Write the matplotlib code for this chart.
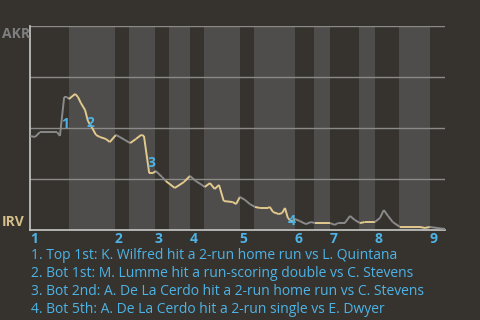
import numpy as np
import matplotlib
matplotlib.use('Agg')
import matplotlib.pyplot as plt
from matplotlib.collections import LineCollection

# ---------- data: AKR win probability by play ----------
play = [0.0, 1.05, 2.1, 5.7, 6.3, 7.2, 7.8, 8.2, 9.5, 10.1, 10.7, 11.6, 12.2, 13.1,
        13.9, 14.7, 16.0, 16.8, 18.1, 18.9, 20.0, 21.1, 22.3, 23.4, 24.0, 25.1,
        25.9, 26.5, 27.8, 28.6, 30.5, 32.4, 33.7, 34.9, 36.2, 36.8, 37.9, 38.9,
        39.8, 40.8, 42.7, 43.4, 44.2, 45.3, 46.3, 47.4, 48.4, 50.1, 50.5, 51.2,
        52.4, 53.1, 53.7, 54.3, 55.2, 55.8, 56.8, 58.1, 59.2, 60.0, 62.1, 63.2,
        64.2, 64.8, 66.3, 67.4, 68.4, 69.5, 70.5, 72.6, 73.7, 74.5, 75.4, 76.4,
        77.9, 82.1, 83.2, 84.2, 85.7, 87.4]
wp = [0.461, 0.456, 0.480, 0.480, 0.461, 0.652, 0.652, 0.642, 0.667, 0.652, 0.623,
      0.588, 0.534, 0.500, 0.466, 0.456, 0.446, 0.431, 0.466, 0.456, 0.441, 0.426,
      0.446, 0.466, 0.461, 0.279, 0.279, 0.289, 0.260, 0.240, 0.206, 0.235, 0.265,
      0.240, 0.221, 0.211, 0.230, 0.201, 0.221, 0.142, 0.137, 0.127, 0.162, 0.147,
      0.127, 0.113, 0.108, 0.108, 0.113, 0.088, 0.078, 0.083, 0.108, 0.059, 0.039,
      0.054, 0.044, 0.029, 0.039, 0.034, 0.034, 0.034, 0.025, 0.034, 0.034, 0.069,
      0.049, 0.034, 0.039, 0.039, 0.059, 0.098, 0.069, 0.039, 0.015, 0.015, 0.010,
      0.015, 0.010, 0.005]

# start of each half inning (top 1st, bot 1st, top 2nd, ...), last = end of game
half_starts = [0.0, 8.2, 17.9, 20.8, 26.3, 29.3, 33.7, 36.6, 44.2, 47.2, 55.8,
               59.8, 63.2, 69.3, 72.6, 77.7, 84.2, 87.4]
innings = ['1', '2', '3', '4', '5', '6', '7', '8', '9']

event_x = [7.5, 12.8, 25.6, 55.1]
event_y = [0.52, 0.525, 0.33, 0.045]
events = [
    '1. Top 1st: K. Wilfred hit a 2-run home run vs L. Quintana',
    '2. Bot 1st: M. Lumme hit a run-scoring double vs C. Stevens',
    '3. Bot 2nd: A. De La Cerdo hit a 2-run home run vs C. Stevens',
    '4. Bot 5th: A. De La Cerdo hit a 2-run single vs E. Dwyer',
]

BG = '#36332f'
BAND = '#4f4d4b'
BLUE = '#4db3e6'
GRAY = '#8a8a8a'
TAN = '#e2c98e'

plt.rcParams['font.family'] = ['Open Sans', 'DejaVu Sans']

fig = plt.figure(figsize=(4.8, 3.2), dpi=100, facecolor=BG)
ax = fig.add_axes([30 / 480, 90 / 320, 415 / 480, 204 / 320])
ax.set_facecolor(BG)
ax.set_xlim(half_starts[0], half_starts[-1])
ax.set_ylim(0, 1)

# bottom halves shaded
for i in range(1, len(half_starts) - 1, 2):
    ax.axvspan(half_starts[i], half_starts[i + 1], color=BAND, lw=0, zorder=0)

for yv in [0.25, 0.5, 0.75, 1.0]:
    ax.axhline(yv, color='#8c8a87', lw=1, zorder=1)

# line coloured by which team is batting
pts = np.column_stack([play, wp])
segs = np.stack([pts[:-1], pts[1:]], axis=1)
mids = (pts[:-1, 0] + pts[1:, 0]) / 2
half_idx = np.searchsorted(half_starts, mids, side='right') - 1
cols = [GRAY if h % 2 == 0 else TAN for h in half_idx]
ax.add_collection(LineCollection(segs, colors=cols, linewidths=1.4, zorder=3))

for i, (ex, ey) in enumerate(zip(event_x, event_y)):
    ax.text(ex, ey, str(i + 1), color=BLUE, fontsize=10, fontweight='bold',
            ha='center', va='center', zorder=4)

for sp in ['top', 'right']:
    ax.spines[sp].set_visible(False)
for sp in ['left', 'bottom']:
    ax.spines[sp].set_color('#c8c8c8')
    ax.spines[sp].set_linewidth(1.2)
ax.set_xticks([])
ax.set_yticks([])

for k, lab in enumerate(innings):
    ax.text(half_starts[2 * k], -0.065, lab, color=BLUE, fontsize=10, fontweight='bold',
            ha='left', va='baseline', clip_on=False)

fig.text(2 / 480, 1 - 38 / 320, 'AKR', color='#7f7f7f', fontsize=10, fontweight='bold',
         va='baseline')
fig.text(2 / 480, 1 - 226 / 320, 'IRV', color='#d6c08a', fontsize=10, fontweight='bold',
         va='baseline')

for j, t in enumerate(events):
    fig.text(31 / 480, 1 - (259 + 18 * j) / 320, t, color=BLUE, fontsize=10,
             va='baseline')

fig.savefig('out.png', dpi=100, facecolor=BG)
